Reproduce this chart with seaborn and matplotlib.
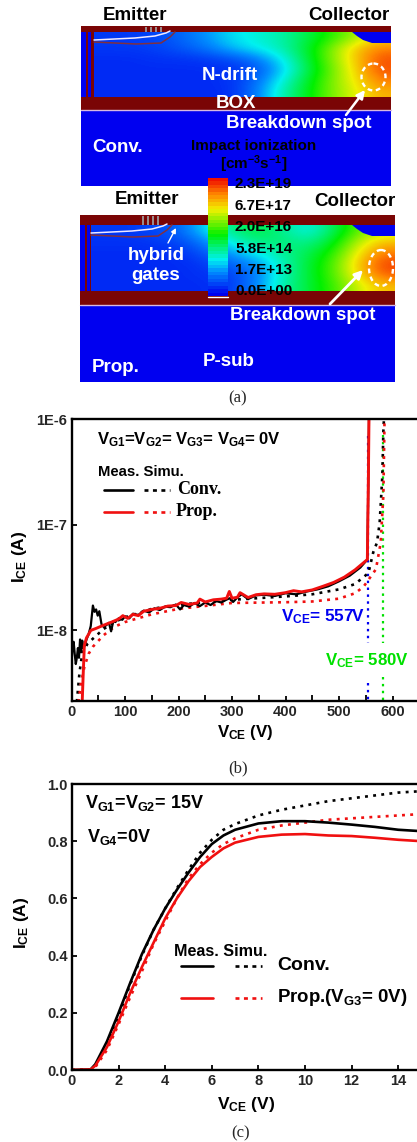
import numpy as np
import pandas as pd
import matplotlib
matplotlib.use("Agg")
import matplotlib.pyplot as plt
from matplotlib.colors import LinearSegmentedColormap
from matplotlib.patches import Rectangle, Ellipse, Polygon
import seaborn as sns

# panel (a): impact ionization fields, 0-1 position on the colour scale
field_top = [
    [.08, .08, .10, .14, .20, .28, .32, .36, .44, .54, .66, .76],
    [.08, .08, .09, .12, .16, .24, .30, .35, .46, .62, .78, .88],
    [.06, .06, .07, .07, .08, .10, .16, .28, .44, .62, .78, .93],
    [.06, .06, .06, .06, .06, .07, .10, .24, .42, .60, .76, .93],
    [.06, .06, .06, .06, .06, .07, .14, .30, .46, .62, .74, .88],
    [.06, .06, .06, .06, .06, .06, .16, .34, .48, .62, .72, .82],
]
field_bot = [
    [.08, .08, .10, .14, .28, .40, .46, .40, .30, .42, .60, .68],
    [.07, .07, .08, .10, .18, .32, .40, .42, .38, .48, .68, .80],
    [.06, .06, .06, .07, .12, .22, .30, .38, .44, .54, .74, .88],
    [.06, .06, .06, .06, .08, .14, .20, .34, .46, .58, .78, .95],
    [.06, .06, .06, .06, .07, .09, .16, .34, .46, .58, .76, .92],
    [.06, .06, .06, .06, .06, .08, .18, .36, .46, .56, .70, .80],
]
cbar_labels = ["2.3E+19", "6.7E+17", "2.0E+16", "5.8E+14", "1.7E+13", "0.0E+00"]

# panel (b): breakdown curves, current in units of 1E-8 A
b_meas_conv_v = [0, 2, 4, 6, 8, 10, 12, 14, 16, 18, 20, 22, 25, 28, 32, 36, 40, 43, 46, 49, 52, 56, 60, 65, 70, 74, 78,
                 82, 88, 95, 100, 108, 115, 125, 135, 145, 155, 165, 175, 185, 195, 203, 210, 220, 230, 240, 250,
                 260, 270, 280, 290, 296, 302, 310, 318, 330, 345, 360, 380, 400, 420, 440, 460, 480, 500, 520, 540, 553, 555, 556]
b_meas_conv_i = [.5, .68, .78, .6, .48, .55, .68, .55, .82, .62, .8, .68, .72, .82, .92, 1.1, 1.72, 1.5, 1.58, 1.38, 1.52, 1.15, 1.08, 1.12, 1.18, .98, 1.22,
                 1.2, 1.3, 1.26, 1.36, 1.3, 1.44, 1.4, 1.54, 1.48, 1.62, 1.56, 1.68, 1.66, 1.76, 1.58, 1.74, 1.68, 1.82, 1.7, 1.84,
                 1.74, 1.9, 1.84, 1.96, 2.02, 1.86, 2.05, 2.2, 1.98, 2.15, 2.18, 2.12, 2.25, 2.2, 2.34, 2.45, 2.62, 2.92, 3.3, 3.95, 4.7, 30, 100]
b_meas_prop_v = [20, 22, 24, 28, 32, 36, 45, 60, 75, 88, 96, 105, 115, 125, 135, 150, 165, 180, 195, 205, 220, 235, 240, 250,
                 265, 280, 290, 295, 300, 310, 315, 330, 345, 360, 380, 400, 415, 430, 450, 470, 490, 510, 530, 553, 555, 556]
b_meas_prop_i = [.21, .4, .72, .85, .92, 1.0, 1.04, 1.12, 1.2, 1.28, 1.38, 1.3, 1.42, 1.38, 1.52, 1.58, 1.62, 1.7, 1.72, 1.84, 1.76, 1.82, 1.98, 1.86,
                 1.95, 1.98, 2.02, 2.34, 2.02, 2.06, 2.28, 2.05, 2.18, 2.22, 2.2, 2.28, 2.38, 2.32, 2.42, 2.62, 2.85, 3.2, 3.75, 4.7, 30, 100]
b_sim_conv_v = [10, 15, 20, 30, 45, 60, 80, 100, 150, 200, 300, 400, 450, 500, 530, 555, 564, 571, 576, 581, 583, 584]
b_sim_conv_i = [.21, .4, .6, .75, .88, 1.03, 1.2, 1.33, 1.6, 1.75, 1.95, 2.1, 2.2, 2.45, 2.75, 3.5, 5.5, 6.8, 10.5, 29, 80, 100]
b_sim_prop_v = [13, 18, 24, 32, 40, 60, 80, 100, 150, 200, 300, 400, 450, 500, 530, 546, 569, 578, 583, 585, 586]
b_sim_prop_i = [.21, .32, .45, .6, .7, .9, 1.08, 1.2, 1.42, 1.6, 1.82, 1.85, 1.88, 2.0, 2.25, 2.6, 3.8, 6.8, 20, 93, 100]
bv_blue_v = [555, 555]
bv_blue_hi = [69, .76]
bv_blue_lo = [.32, .21]
bv_green_v = [582, 582]
bv_green_hi = [72, .76]
bv_green_lo = [.36, .21]

# panel (c): output curves
c_v = [0, .8, 1, 1.5, 2, 2.5, 3, 3.5, 4, 4.5, 5, 5.5, 6, 6.5, 7, 8, 9, 10, 11, 12, 13, 14, 15]
c_meas_conv = [0, .002, .02, .10, .20, .305, .405, .49, .565, .63, .69, .745, .79, .82, .84, .862, .87, .87, .865, .858, .85, .84, .835]
c_meas_prop = [0, .002, .015, .08, .17, .27, .36, .445, .53, .60, .66, .71, .745, .775, .795, .815, .823, .825, .82, .818, .812, .805, .80]
c_sim_conv = [0, .002, .015, .09, .19, .30, .40, .49, .565, .635, .70, .76, .805, .84, .86, .89, .91, .925, .94, .95, .96, .97, .975]
c_sim_prop = [0, .002, .01, .07, .16, .255, .345, .44, .52, .60, .67, .72, .76, .79, .81, .84, .855, .865, .875, .88, .885, .89, .895]

sns.set_theme(style="ticks")
plt.rcParams["font.family"] = ["Liberation Sans", "DejaVu Sans"]
plt.rcParams["font.weight"] = "bold"
plt.rcParams["mathtext.fontset"] = "custom"
plt.rcParams["mathtext.bf"] = "Liberation Sans:bold"
plt.rcParams["mathtext.rm"] = "Liberation Sans:bold"
plt.rcParams["mathtext.default"] = "bf"

W, H = 417, 1142
fig = plt.figure(figsize=(W / 100, H / 100), dpi=100, facecolor="white")


def px_axes(left, top, right, bottom):
    return fig.add_axes([left / W, 1 - bottom / H, (right - left) / W, (bottom - top) / H])


cmap = LinearSegmentedColormap.from_list("tcad", [(0, "#0000f0"), (.2, "#0090ff"), (.3, "#00f0f0"),
                                                  (.52, "#00f000"), (.74, "#f0f000"), (.87, "#ff8800"), (1, "#f01000")])
DARK = "#7a0505"
BLUE = "#0000f0"
RED = "#f01010"
GREEN = "#00e000"

# panel (a) in pixel coordinates, device pictures under the colour scale, labels over it
ax0 = fig.add_axes([0, 0, 1, 1], zorder=1)
ax0.patch.set_visible(False)
ax_t = fig.add_axes([0, 0, 1, 1], zorder=3)
ax_t.patch.set_visible(False)


def device(x0, x1, y0, y1, fx0, y_f0, y_f1, y_box, field, well_x, stripes):
    ax0.add_patch(Rectangle((x0, y0), x1 - x0, y1 - y0, color=BLUE, lw=0, zorder=1))
    ax0.imshow(field, extent=(fx0, x1, y_f1, y_f0), aspect="auto", cmap=cmap, vmin=0, vmax=1,
               interpolation="bicubic", zorder=2)
    ax0.add_patch(Rectangle((x0, y0), x1 - x0, y_f0 - y0, color=DARK, lw=0, zorder=3))
    ax0.add_patch(Rectangle((x0, y_f1), x1 - x0, y_box - y_f1, color=DARK, lw=0, zorder=3))
    ax0.plot([x0, x1], [y_box, y_box], color="#d8b8e0", lw=1, zorder=4)
    # left edge stripes
    ax0.add_patch(Rectangle((x0, y_f0), fx0 - x0, y_f1 - y_f0, color=BLUE, lw=0, zorder=3))
    for sx, sw in stripes:
        ax0.add_patch(Rectangle((x0 + sx, y_f0), sw, y_f1 - y_f0, color=DARK, lw=0, zorder=3))
    # gate oxide traces
    ax0.plot([fx0, fx0 + 41, fx0 + 61, fx0 + 72, fx0 + 76], [y_f0 + 8, y_f0 + 6, y_f0 + 4, y_f0 + 1, y_f0 - 1],
             color="#f0e8ff", lw=1.1, zorder=4)
    ax0.plot([fx0, fx0 + 42, fx0 + 67, fx0 + 76, fx0 + 81], [y_f0 + 10, y_f0 + 12, y_f0 + 11, y_f0 + 5, y_f0],
             color="#803040", lw=1.1, zorder=4)
    # contacts on the top band
    for cx in (fx0 + 51, fx0 + 56, fx0 + 61, fx0 + 66):
        ax0.add_patch(Rectangle((cx, y0 + 1), 2, y_f0 - y0 - 1, color="#9a8a8a", lw=0, zorder=4))
    # collector well
    ax0.add_patch(Polygon([(well_x, y_f0), (x1, y_f0), (x1, y_f0 + 11), (well_x + 20, y_f0 + 11),
                           (well_x + 11, y_f0 + 8), (well_x + 5, y_f0 + 4)], color=BLUE, lw=0, zorder=4))


device(81, 391, 26, 186, 94, 32, 97, 110, field_top, 352, [(5, 2), (10, 3)])
device(80, 395, 215, 382, 91, 225, 291, 305, field_bot, 352, [(5, 2), (10, 1)])

ax_t.add_patch(Ellipse((373.5, 77), 24, 27, fill=False, ec="white", lw=1.7, ls=(0, (2, 1.5)), zorder=5))
ax_t.add_patch(Ellipse((381, 268), 24, 36, fill=False, ec="white", lw=1.7, ls=(0, (2, 1.5)), zorder=5))
for start, end, width in [((346, 115), (365, 90), 1.8), ((330, 304), (363, 270), 2), ((168, 243), (176, 228), 1)]:
    ax_t.annotate("", xy=end, xytext=start, zorder=6,
                  arrowprops=dict(arrowstyle="-|>", color="white", lw=width, shrinkA=0, shrinkB=0,
                                  mutation_scale=12 if width > 1 else 7))


def label(x, y, s, size=13.5, color="black", ha="center", **kw):
    ax_t.text(x, y, s, fontsize=size, color=color, ha=ha, va="center", zorder=8, **kw)


label(135, 15, "Emitter")
label(349, 15, "Collector")
label(147, 200, "Emitter")
label(355, 201, "Collector")
label(229.5, 75, "N-drift", color="white")
label(236, 104, "BOX", color="white")
label(299, 123, "Breakdown spot", color="white")
label(303, 316, "Breakdown spot", color="white")
label(92, 148, "Conv.", color="white", ha="left")
label(92, 367, "Prop.", color="white", ha="left")
label(229, 361, "P-sub", color="white")
label(156, 255, "hybrid", color="white")
label(156, 275, "gates", color="white")
label(254, 146, "Impact ionization", size=11)
label(254, 164, "[cm$^{-3}$s$^{-1}$]", size=11)
for yy, s in zip([184, 206, 227, 249, 270, 291], cbar_labels):
    label(235, yy, s, size=11, ha="left")

# colour scale
ax_cb = px_axes(208, 178, 228, 296)
ax_cb.set_zorder(2)
levels = np.linspace(1, 0, 34).reshape(-1, 1)
sns.heatmap(levels, ax=ax_cb, cmap=cmap, vmin=0, vmax=1, cbar=False, xticklabels=False, yticklabels=False)
ax_t.plot([208, 228], [296.5, 296.5], color="white", lw=1, zorder=7)


def curve(ax, x, y, color, dotted=False, lw=1.9):
    df = pd.DataFrame({"x": x, "y": y})
    ls = (0, (1.1, 2.0)) if dotted else "-"
    sns.lineplot(data=df, x="x", y="y", ax=ax, color=color, lw=lw, linestyle=ls,
                 estimator=None, sort=False, errorbar=None)


def frame(ax):
    for s in ax.spines.values():
        s.set_linewidth(1.7)
        s.set_color("black")
    ax.tick_params(which="both", direction="in", width=1.3, color="black", labelsize=10.5, pad=3)
    ax.tick_params(which="major", length=3.5)
    ax.set_xlabel("")
    ax.set_ylabel("")


# panel (b)
ax_b = px_axes(71.5, 419.5, 71.5 + 650 * .535, 701)
ax_b.set_yscale("log")
curve(ax_b, bv_blue_v, np.array(bv_blue_hi) * 1e-8, BLUE, dotted=True, lw=1.6)
curve(ax_b, bv_blue_v, np.array(bv_blue_lo) * 1e-8, BLUE, dotted=True, lw=1.6)
curve(ax_b, bv_green_v, np.array(bv_green_hi) * 1e-8, GREEN, dotted=True, lw=1.6)
curve(ax_b, bv_green_v, np.array(bv_green_lo) * 1e-8, GREEN, dotted=True, lw=1.6)
curve(ax_b, b_sim_conv_v, np.array(b_sim_conv_i) * 1e-8, "black", dotted=True)
curve(ax_b, b_sim_prop_v, np.array(b_sim_prop_i) * 1e-8, RED, dotted=True)
curve(ax_b, b_meas_conv_v, np.array(b_meas_conv_i) * 1e-8, "black", lw=1.6)
curve(ax_b, b_meas_prop_v, np.array(b_meas_prop_i) * 1e-8, RED, lw=2.1)
ax_b.set_xlim(0, 650)
ax_b.set_ylim(2.14e-9, 1e-6)
ax_b.set_xticks(range(0, 700, 100))
ax_b.set_xticks(range(50, 650, 100), minor=True)
ax_b.set_yticks([1e-8, 1e-7, 1e-6], labels=["1E-8", "1E-7", "1E-6"])
ax_b.set_yticks([], minor=True)
frame(ax_b)

label(97, 440, "V$_{G1}$=V$_{G2}$= V$_{G3}$= V$_{G4}$= 0V", size=12, ha="left")
label(98, 472, "Meas. Simu.", size=10.7, ha="left")
label(177, 489, "Conv.", size=13, ha="left", family="Liberation Serif")
label(176, 512, "Prop.", size=13, ha="left", family="Liberation Serif")
label(281, 617, "V$_{CE}$= 557V", size=12.3, color=BLUE, ha="left")
label(325, 661, "V$_{CE}$= 580V", size=12.2, color=GREEN, ha="left")
label(20, 557, "I$_{CE}$ (A)", size=12.5, rotation=90)
label(245, 732, "V$_{CE}$ (V)", size=12.2)

# panel (c)
ax_c = px_axes(72, 784, 72 + 15 * 23.3, 1070)
curve(ax_c, c_v, c_sim_conv, "black", dotted=True)
curve(ax_c, c_v, c_sim_prop, RED, dotted=True)
curve(ax_c, c_v, c_meas_conv, "black")
curve(ax_c, c_v, c_meas_prop, RED)
ax_c.set_xlim(0, 15)
ax_c.set_ylim(0, 1)
ax_c.set_xticks(range(0, 16, 2))
ax_c.set_yticks([0, .2, .4, .6, .8, 1], labels=["0.0", "0.2", "0.4", "0.6", "0.8", "1.0"])
frame(ax_c)

label(85, 803, "V$_{G1}$=V$_{G2}$= 15V", size=13, ha="left")
label(87, 837, "V$_{G4}$=0V", size=13, ha="left")
label(174, 951, "Meas. Simu.", size=11.6, ha="left")
label(277, 965, "Conv.", size=14, ha="left")
label(277, 998, "Prop.(V$_{G3}$= 0V)", size=13.4, ha="left")
label(246, 1105, "V$_{CE}$ (V)", size=12.5)
label(22, 923, "I$_{CE}$ (A)", size=12.5, rotation=90)

# legend samples
for xs, xd, yy, col in [((104, 133), (144, 170), 490, "black"), ((104, 133), (144, 170), 512, RED),
                        ((181, 213), (235, 262), 966, "black"), ((181, 213), (235, 262), 998, RED)]:
    ax_t.plot(xs, [yy, yy], color=col, lw=1.9, zorder=8)
    ax_t.plot(xd, [yy, yy], color=col, lw=1.9, ls=(0, (1.5, 1.7)), zorder=8)

# captions
for xx, yy, s in [(238, 398, "(a)"), (238, 768, "(b)"), (241, 1133, "(c)")]:
    ax_t.text(xx, yy, s, fontsize=12, family="Liberation Serif", fontweight="normal",
              ha="center", va="center", zorder=8)

for a in (ax0, ax_t):
    a.set_xlim(0, W)
    a.set_ylim(H, 0)
    a.axis("off")

fig.savefig("out.png", dpi=100)
